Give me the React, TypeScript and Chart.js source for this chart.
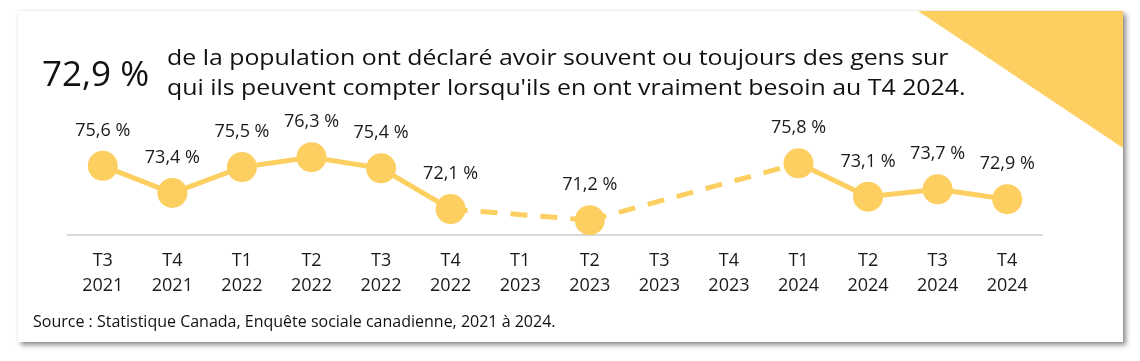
import React, { useEffect, useRef } from "react";
import { Chart, registerables } from "chart.js";

Chart.register(...registerables);

const quarters = ["T3", "T4", "T1", "T2", "T3", "T4", "T1", "T2", "T3", "T4", "T1", "T2", "T3", "T4"];
const years = ["2021", "2021", "2022", "2022", "2022", "2022", "2023", "2023", "2023", "2023", "2024", "2024", "2024", "2024"];
const values: (number | null)[] = [75.6, 73.4, 75.5, 76.3, 75.4, 72.1, null, 71.2, null, null, 75.8, 73.1, 73.7, 72.9];

const headline = "72,9 %";
const descLine1 = "de la population ont déclaré avoir souvent ou toujours des gens sur";
const descLine2 = "qui ils peuvent compter lorsqu'ils en ont vraiment besoin au T4 2024.";
const sourceText = "Source : Statistique Canada, Enquête sociale canadienne, 2021 à 2024.";

const YELLOW = "#FCCF60";
const FONT = "'Open Sans', 'Noto Sans', sans-serif";

const fmt = (v: number) => v.toFixed(1).replace(".", ",") + " %";

export default function App() {
  const ref = useRef<HTMLCanvasElement | null>(null);

  useEffect(() => {
    if (!ref.current) return;
    const labelPlugin = {
      id: "pointLabels",
      afterDatasetsDraw(chart: any) {
        const ctx = chart.ctx;
        const meta = chart.getDatasetMeta(0);
        ctx.save();
        ctx.font = `18px ${FONT}`;
        ctx.fillStyle = "#1a1a1a";
        ctx.textAlign = "center";
        ctx.textBaseline = "middle";
        meta.data.forEach((pt: any, i: number) => {
          const v = values[i];
          if (v == null) return;
          ctx.fillText(fmt(v), pt.x, pt.y - 35);
        });
        ctx.restore();
      },
    };
    const chart = new Chart(ref.current, {
      type: "line",
      data: {
        labels: quarters.map((q, i) => [q, years[i]]),
        datasets: [
          {
            data: values,
            borderColor: YELLOW,
            backgroundColor: YELLOW,
            borderWidth: 5,
            pointRadius: 15,
            pointHoverRadius: 15,
            pointBorderWidth: 0,
            pointBackgroundColor: YELLOW,
            spanGaps: true,
            tension: 0,
            segment: {
              borderDash: (c: any) => (values[c.p0DataIndex] == null ? [17, 13] : undefined),
            },
          },
        ],
      },
      options: {
        animation: false,
        responsive: false,
        maintainAspectRatio: false,
        layout: { padding: { left: 68, right: 98, top: 111.5, bottom: 46 } },
        plugins: { legend: { display: false }, tooltip: { enabled: false } },
        scales: {
          x: {
            offset: true,
            grid: { display: false },
            border: { display: true, color: "#d8d8d8", width: 2 },
            ticks: {
              color: "#1a1a1a",
              font: { family: FONT, size: 18, lineHeight: 1.36 },
              padding: 6,
              maxRotation: 0,
              autoSkip: false,
            },
            afterFit: (s: any) => {
              s.height = 80;
            },
          },
          y: { display: false, min: 70, max: 80 },
        },
      },
      plugins: [labelPlugin],
    });
    return () => chart.destroy();
  }, []);

  return (
    <div style={{ position: "fixed", left: 0, top: 0, width: 1140, height: 361, background: "#fff", overflow: "hidden", fontFamily: FONT }}>
      <div
        style={{
          position: "absolute",
          left: 18,
          top: 11,
          width: 1105,
          height: 331,
          background: "#fff",
          boxShadow: "3px 3px 5px rgba(0,0,0,0.45), 0 0 2px rgba(0,0,0,0.08)",
        }}
      />
      <div
        style={{
          position: "absolute",
          left: 918,
          top: 11,
          width: 205,
          height: 137,
          background: YELLOW,
          clipPath: "polygon(0 0, 100% 0, 100% 100%)",
        }}
      />
      <canvas ref={ref} width={1140} height={361} style={{ position: "absolute", left: 0, top: 0 }} />
      <div style={{ position: "absolute", left: 42, top: 49, fontSize: 35, lineHeight: "48px", color: "#111", whiteSpace: "nowrap" }}>{headline}</div>
      <div
        style={{
          position: "absolute",
          left: 167,
          top: 42,
          fontSize: 22,
          lineHeight: "29.5px",
          color: "#111",
          whiteSpace: "nowrap",
          transform: "scaleX(1.13)",
          transformOrigin: "0 0",
        }}
      >
        <div>{descLine1}</div>
        <div>{descLine2}</div>
      </div>
      <div style={{ position: "absolute", left: 33, top: 310.5, fontSize: 16, lineHeight: "20px", color: "#111", whiteSpace: "nowrap" }}>{sourceText}</div>
    </div>
  );
}
